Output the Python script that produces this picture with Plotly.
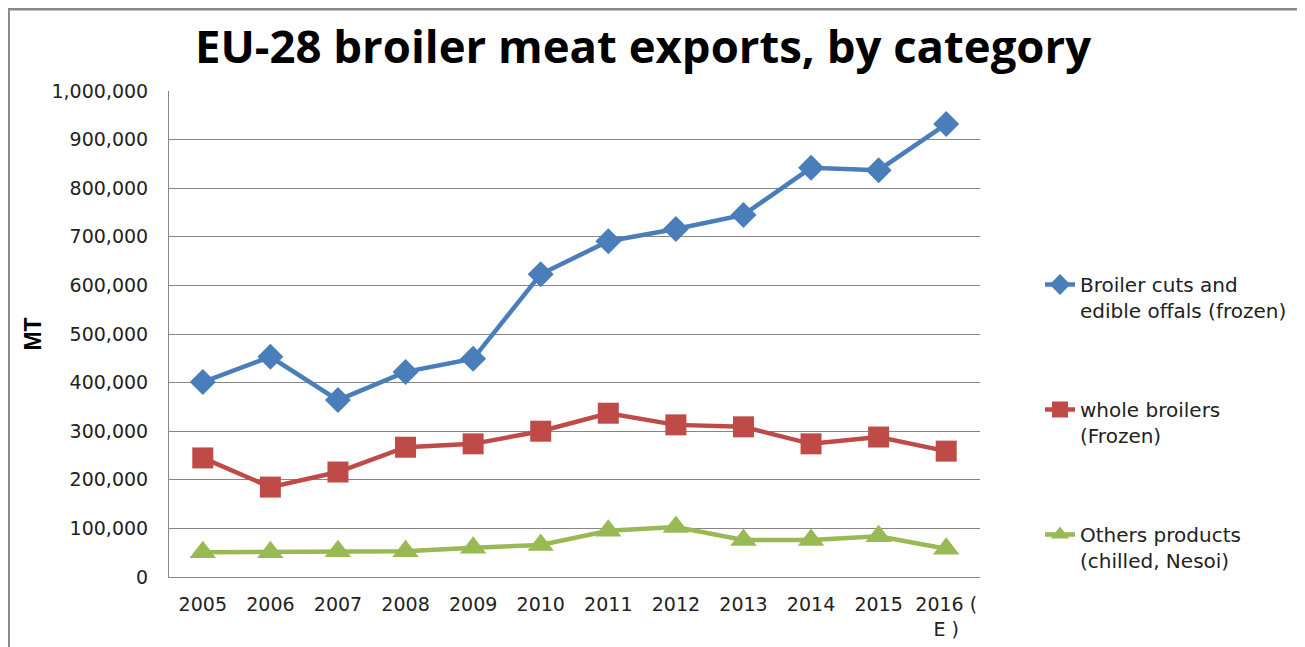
import plotly.graph_objects as go

years = ["2005", "2006", "2007", "2008", "2009", "2010", "2011", "2012", "2013", "2014", "2015", "2016 (E )"]
tick_text = ["2005", "2006", "2007", "2008", "2009", "2010", "2011", "2012", "2013", "2014", "2015", "2016 (<br>E )"]

cuts_frozen = [401000, 453000, 364000, 422000, 449000, 623000, 691000, 716000, 745000, 842000, 837000, 932000]
whole_frozen = [245000, 185000, 216000, 267000, 274000, 300000, 337000, 313000, 309000, 274000, 288000, 259000]
others = [51000, 51000, 53000, 53000, 60000, 66000, 95000, 103000, 76000, 76000, 84000, 58000]

names = ["Broiler cuts and<br>edible offals (frozen)", "whole broilers<br>(Frozen)", "Others products<br>(chilled, Nesoi)"]
series = [cuts_frozen, whole_frozen, others]
colors = ["#4A7EBB", "#BE4B48", "#98B954"]
symbols = ["diamond", "square", "triangle-up"]
sizes = [20, 21, 23]

fig = go.Figure()
for i, (nm, vals) in enumerate(zip(names, series)):
    fig.add_trace(go.Scatter(
        x=years, y=vals, name=nm, mode="lines+markers",
        legendgroup=f"g{i}",
        line=dict(color=colors[i], width=4.5),
        marker=dict(symbol=symbols[i], size=sizes[i], color=colors[i]),
    ))

fig.update_layout(
    width=1305, height=647,
    margin=dict(l=161, r=333, t=83, b=78),
    paper_bgcolor="white", plot_bgcolor="white",
    font=dict(family="DejaVu Sans", color="#222222"),
    title=dict(text="<b>EU-28 broiler meat exports, by category</b>",
               font=dict(family="Open Sans", size=45.5, color="black"),
               x=0.4866, xanchor="center", y=0.939, yanchor="middle"),
    showlegend=True,
    legend=dict(x=1.074, xanchor="left", y=0.642, yanchor="top",
                traceorder="grouped", tracegroupgap=70, valign="top",
                font=dict(family="DejaVu Sans", size=20, color="#222222"),
                bgcolor="rgba(0,0,0,0)"),
    xaxis=dict(type="category", tickvals=years, ticktext=tick_text,
               showgrid=False, showline=True, linecolor="#868686", linewidth=1,
               ticks="", ticklabelstandoff=10,
               tickfont=dict(family="DejaVu Sans", size=19, color="#222222"),
               range=[-0.5, 11.5]),
    yaxis=dict(range=[0, 1000000], dtick=100000, tickformat=",d",
               showgrid=True, gridcolor="#868686", gridwidth=1,
               showline=True, linecolor="#868686", linewidth=1,
               ticks="", ticklabelstandoff=16, zeroline=False,
               tickfont=dict(family="DejaVu Sans", size=19, color="#222222"),
               title=dict(text="<b>MT</b>", standoff=3,
                          font=dict(family="Liberation Sans", size=23, color="black"))),
    shapes=[dict(type="rect", xref="paper", yref="paper",
                 x0=-0.198, x1=1.42, y0=-0.2, y1=1.1687,
                 line=dict(color="#888888", width=3), layer="below")],
)

fig.write_html("out.html")
